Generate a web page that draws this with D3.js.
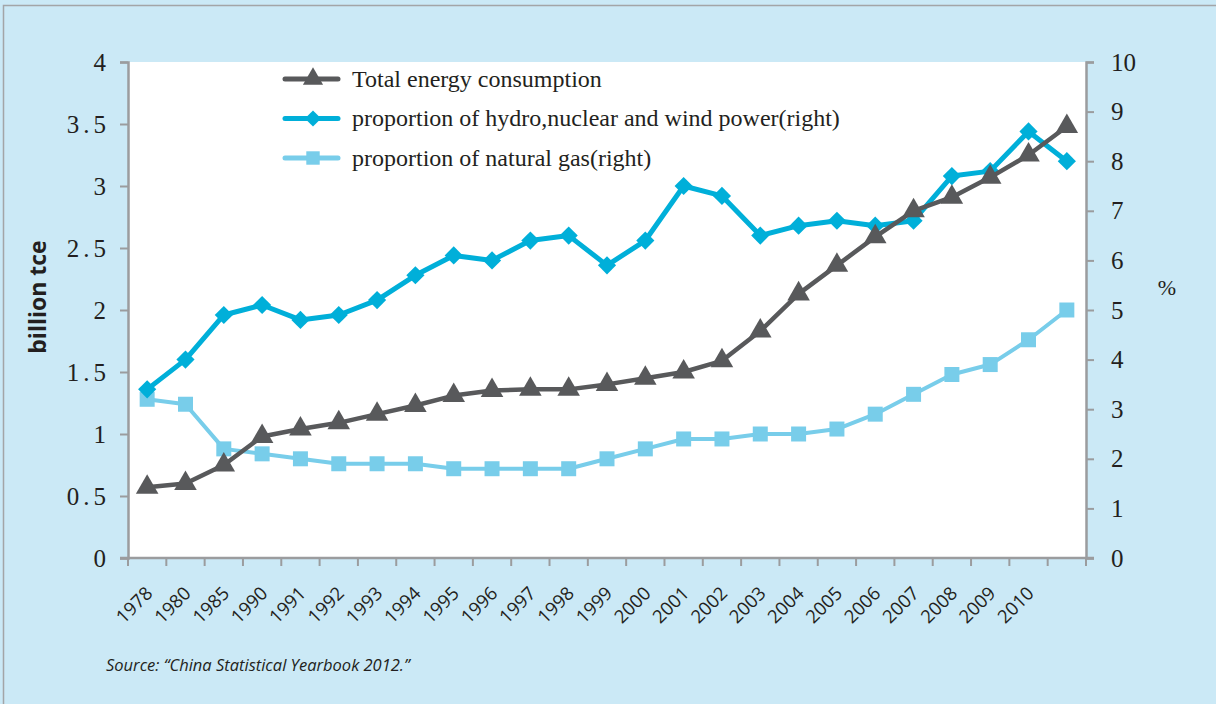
<!DOCTYPE html>
<html>
<head>
<meta charset="utf-8">
<script src="https://d3js.org/d3.v7.min.js"></script>
<style>
	html, body { margin: 0; padding: 0; background: #cbe9f6; }
	svg { display: block; }
</style>
</head>
<body>
<div id="chart"></div>
<script>
// Categories (last point, 2011, carries no label in the source)
const years = ['1978', '1980', '1985', '1990', '1991', '1992', '1993', '1994', '1995', '1996',
	'1997', '1998', '1999', '2000', '2001', '2002', '2003', '2004', '2005', '2006',
	'2007', '2008', '2009', '2010', '2011'];
const yearLabels = ['1978', '1980', '1985', '1990', '1991', '1992', '1993', '1994', '1995', '1996',
	'1997', '1998', '1999', '2000', '2001', '2002', '2003', '2004', '2005', '2006',
	'2007', '2008', '2009', '2010', ''];

// Total energy consumption, billion tce (left axis)
const totalEnergy = [0.57, 0.60, 0.75, 0.98, 1.04, 1.09, 1.16, 1.23, 1.31, 1.35,
	1.36, 1.36, 1.40, 1.45, 1.50, 1.59, 1.83, 2.13, 2.36, 2.59,
	2.80, 2.91, 3.07, 3.25, 3.48];

// Proportion of hydro, nuclear and wind power, % (right axis)
const hydroShare = [3.4, 4.0, 4.9, 5.1, 4.8, 4.9, 5.2, 5.7, 6.1, 6.0,
	6.4, 6.5, 5.9, 6.4, 7.5, 7.3, 6.5, 6.7, 6.8, 6.7,
	6.8, 7.7, 7.8, 8.6, 8.0];

// Proportion of natural gas, % (right axis)
const gasShare = [3.2, 3.1, 2.2, 2.1, 2.0, 1.9, 1.9, 1.9, 1.8, 1.8,
	1.8, 1.8, 2.0, 2.2, 2.4, 2.4, 2.5, 2.5, 2.6, 2.9,
	3.3, 3.7, 3.9, 4.4, 5.0];

const leftTicks = [0, 0.5, 1, 1.5, 2, 2.5, 3, 3.5, 4];
const rightTicks = [0, 1, 2, 3, 4, 5, 6, 7, 8, 9, 10];

const legendLabels = ['Total energy consumption',
	'proportion of hydro,nuclear and wind power(right)',
	'proportion of natural gas(right)'];

// Layout
const width = 1216, height = 704;
const plot = { left: 128, right: 1086, top: 62, bottom: 558 };
const serif = '"Liberation Serif", "Times New Roman", serif';
const sans = '"Open Sans", "Noto Sans", sans-serif';
const ink = '#231f20';

const svg = d3.select('#chart').append('svg')
	.attr('width', width)
	.attr('height', height);

// Outer panel
svg.append('rect')
	.attr('x', 3.5).attr('y', 5.5)
	.attr('width', width + 10).attr('height', height + 10)
	.style('fill', '#cbe9f6')
	.style('stroke', '#a3a5a7')
	.style('stroke-width', 1.5);

svg.append('rect')
	.attr('x', plot.left).attr('y', plot.top)
	.attr('width', plot.right - plot.left).attr('height', plot.bottom - plot.top)
	.style('fill', '#ffffff');

// Scales
const x = d3.scaleBand().domain(years).range([plot.left, plot.right]);
const yLeft = d3.scaleLinear().domain([0, 4]).range([plot.bottom, plot.top]);
const yRight = d3.scaleLinear().domain([0, 10]).range([plot.bottom, plot.top]);
const cx = d => x(d) + x.bandwidth() / 2;

const axisColor = '#9b9c9e';

// Left axis (the source sets decimals loosely, e.g. "3 . 5")
const gLeft = svg.append('g')
	.attr('transform', 'translate(' + plot.left + ',0)')
	.call(d3.axisLeft(yLeft).tickValues(leftTicks).tickSize(8).tickPadding(10)
		.tickFormat(d => String(d)));

// Right axis
const gRight = svg.append('g')
	.attr('transform', 'translate(' + plot.right + ',0)')
	.call(d3.axisRight(yRight).tickValues(rightTicks).tickSize(8).tickPadding(17));

[gLeft, gRight].forEach(g => {
	g.select('.domain').style('stroke', axisColor).style('stroke-width', 2.5);
	g.selectAll('.tick line').style('stroke', axisColor).style('stroke-width', 2);
	g.selectAll('.tick text')
		.style('font-family', serif)
		.style('font-size', '25px')
		.style('fill', ink);
});
gLeft.selectAll('.tick text').attr('letter-spacing', 4);

// Bottom axis: ticks on band edges, labels at band centres
const gBottom = svg.append('g')
	.attr('transform', 'translate(0,' + plot.bottom + ')');

gBottom.append('line')
	.attr('x1', plot.left - 8).attr('x2', plot.right + 8)
	.style('stroke', axisColor).style('stroke-width', 2.5);

gBottom.selectAll('line.tick')
	.data(years.concat(['end']))
	.join('line')
	.attr('class', 'tick')
	.attr('x1', (d, i) => i < years.length ? x(d) : plot.right)
	.attr('x2', (d, i) => i < years.length ? x(d) : plot.right)
	.attr('y1', 0).attr('y2', 8)
	.style('stroke', axisColor).style('stroke-width', 2);

gBottom.selectAll('text')
	.data(years)
	.join('text')
	.attr('transform', d => 'translate(' + (cx(d) + 2) + ',' + 32 + ') rotate(-45)')
	.attr('text-anchor', 'end')
	.attr('dy', '0.35em')
	.style('font-family', sans)
	.style('font-size', '18.5px')
	.style('fill', ink)
	.text((d, i) => yearLabels[i]);

// Axis titles
svg.append('text')
	.attr('transform', 'translate(46,297) rotate(-90)')
	.attr('text-anchor', 'middle')
	.style('font-family', sans)
	.style('font-weight', 'bold')
	.style('font-size', '23px')
	.style('fill', ink)
	.text('billion  tce');

svg.append('text')
	.attr('x', 1167).attr('y', 295)
	.attr('text-anchor', 'middle')
	.style('font-family', serif)
	.style('font-size', '22px')
	.style('fill', ink)
	.text('%');

// Series
const series = [
	{ values: totalEnergy, scale: yLeft, color: '#58595b', width: 4.5, marker: d3.symbolTriangle, size: 220, rotate: 0 },
	{ values: hydroShare, scale: yRight, color: '#00afd9', width: 5, marker: d3.symbolSquare, size: 165, rotate: 45 },
	{ values: gasShare, scale: yRight, color: '#78cdea', width: 4, marker: d3.symbolSquare, size: 225, rotate: 0 }
];

const drawOrder = [2, 1, 0];
for (const idx of drawOrder) {
	const s = series[idx];
	const line = d3.line()
		.x((d, i) => cx(years[i]))
		.y(d => s.scale(d));

	svg.append('path')
		.datum(s.values)
		.attr('d', line)
		.style('fill', 'none')
		.style('stroke', s.color)
		.style('stroke-width', s.width)
		.style('stroke-linejoin', 'round');

	svg.append('g').selectAll('path')
		.data(s.values)
		.join('path')
		.attr('transform', (d, i) => 'translate(' + cx(years[i]) + ',' + s.scale(d) + ') rotate(' + s.rotate + ')')
		.attr('d', d3.symbol().type(s.marker).size(s.size))
		.style('fill', s.color);
}

// Legend
const legend = svg.append('g').attr('transform', 'translate(285,79)');
const legendRows = legend.selectAll('g')
	.data(series)
	.join('g')
	.attr('transform', (d, i) => 'translate(0,' + i * 39.5 + ')');

legendRows.append('line')
	.attr('x1', 0).attr('x2', 53)
	.style('stroke', d => d.color)
	.style('stroke-width', 5)
	.style('stroke-linecap', 'round');

legendRows.append('path')
	.attr('transform', d => 'translate(28,0) rotate(' + d.rotate + ')')
	.attr('d', d => d3.symbol().type(d.marker).size(d.size * 0.8)())
	.style('fill', d => d.color);

legendRows.append('text')
	.attr('x', 67).attr('y', 0)
	.attr('dy', '0.33em')
	.style('font-family', serif)
	.style('font-size', '24px')
	.style('fill', ink)
	.text((d, i) => legendLabels[i]);

// Source note
svg.append('text')
	.attr('x', 106).attr('y', 671)
	.style('font-family', sans)
	.style('font-style', 'italic')
	.style('font-size', '16.5px')
	.style('fill', ink)
	.text('Source: \u201cChina Statistical Yearbook 2012.\u201d');
</script>
</body>
</html>
